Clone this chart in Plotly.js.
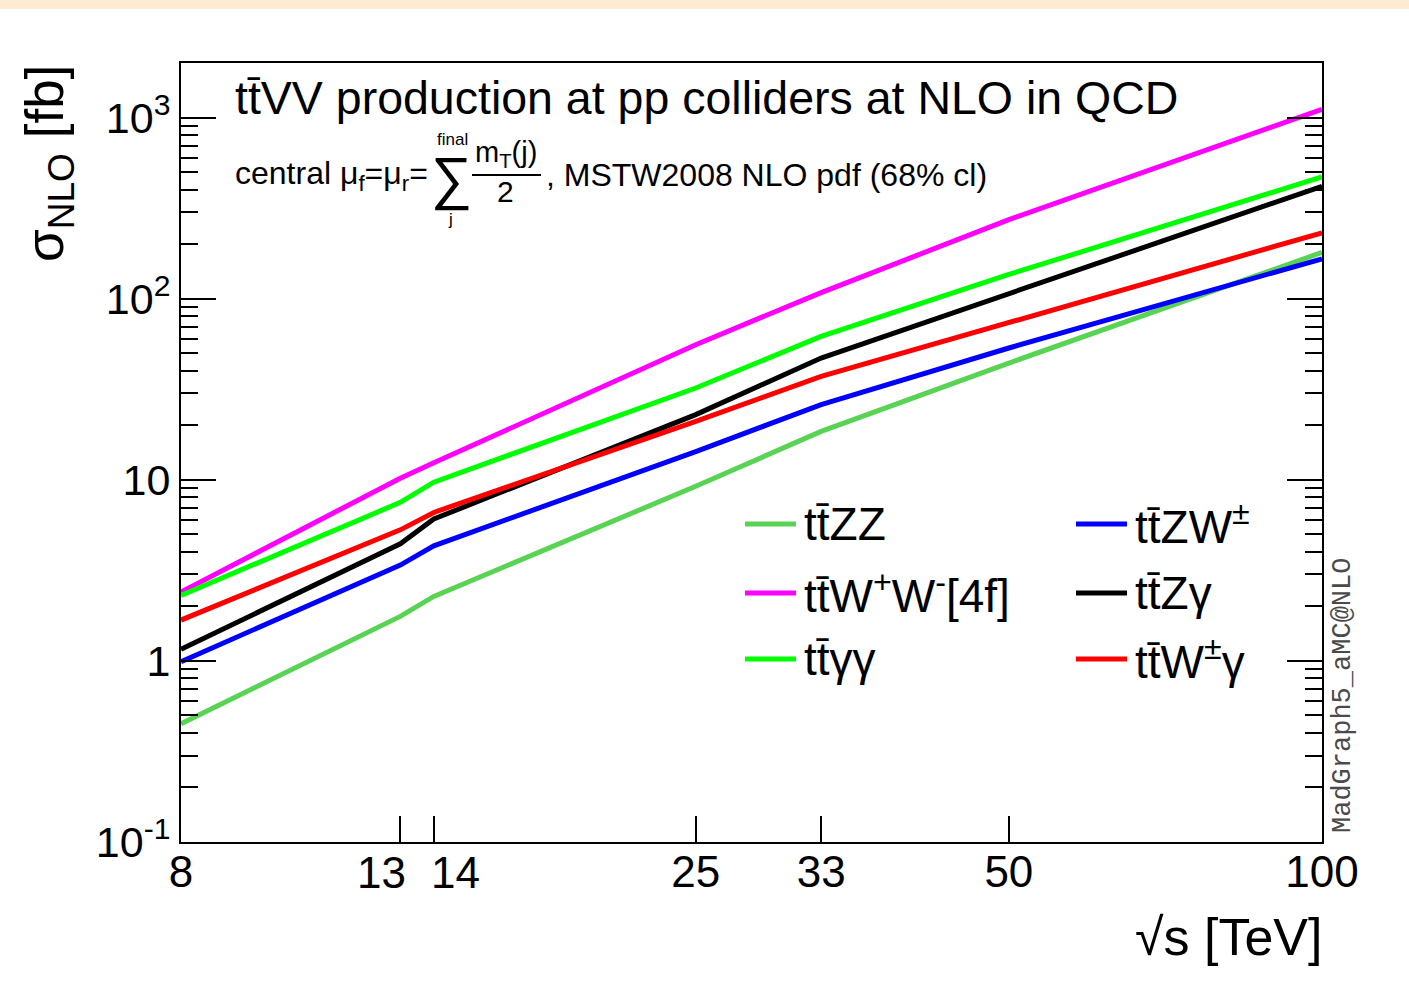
<!DOCTYPE html>
<html>
<head>
<meta charset="utf-8">
<script src="https://cdn.plot.ly/plotly-3.0.1.min.js"></script>
<style>html,body{margin:0;padding:0;background:#fff;}#chart{width:1409px;height:984px;}</style>
</head>
<body>
<div id="chart"></div>
<script>
// ---- data ----
const energies = [8, 13, 14, 25, 33, 50, 100];           // sqrt(s) [TeV]
const xTickLabels = ["8", "13", "14", "25", "33", "50", "100"];
const yTickVals = [0.1, 1, 10, 100, 1000];
const yTickLabels = ["10<sup>-1</sup>", "1", "10", "10<sup>2</sup>", "10<sup>3</sup>"];

const names = ["tt\u0304ZZ", "tt\u0304W<sup>+</sup>W<sup>-</sup>[4f]", "tt\u0304\u03b3\u03b3",
               "tt\u0304ZW<sup>\u00b1</sup>", "tt\u0304Z\u03b3", "tt\u0304W<sup>\u00b1</sup>\u03b3"];
const ttZZ   = [0.45, 1.76, 2.27, 9.2, 18.5, 44.1, 180];
const ttWW   = [2.4, 10.2, 12.4, 55.7, 108, 273, 1110];
const ttAA   = [2.3, 7.5, 9.7, 32.1, 61.9, 136, 470];
const ttZW   = [0.99, 3.38, 4.32, 14.3, 26.0, 53.4, 166];
const ttZA   = [1.16, 4.43, 6.07, 22.9, 47.0, 107, 417];
const ttWA   = [1.68, 5.29, 6.60, 21.0, 37.2, 73.4, 231];
const colors = ["#59d354", "#ff00ff", "#00ff00", "#0000ff", "#000000", "#ff0000"];
const series = [ttZZ, ttWW, ttAA, ttZW, ttZA, ttWA];

// ---- layout geometry ----
const W = 1409, H = 984;
const L = 181, R = 1322, T = 63, B = 842;
const px = x => (x - L) / (R - L);
const py = y => (B - y) / (B - T);

const FONT = "'Liberation Sans', Arial, Helvetica, sans-serif";

const traces = series.map((vals, i) => ({
  x: energies, y: vals, type: "scatter", mode: "lines",
  name: names[i], line: {color: colors[i], width: 5}, showlegend: false,
  hoverinfo: "skip"
}));

// minor ticks for log y axis
const minorVals = [];
for (let d = -1; d < 4; d++) for (let k = 2; k <= 9; k++) {
  const v = k * Math.pow(10, d);
  if (v < 2000) minorVals.push(v);
}

const annotations = [];
const shapes = [];
function txt(text, x, y, size, opts) {
  annotations.push(Object.assign({
    text: text, xref: "paper", yref: "paper", x: px(x), y: py(y),
    showarrow: false, xanchor: "left", yanchor: "middle",
    font: {family: FONT, size: size, color: "#000"}
  }, opts || {}));
}

// x tick labels: 13 and 14 are pushed apart (as in the original), others centred by the axis
const axisTickText = xTickLabels.map((t, i) => (energies[i] === 13 || energies[i] === 14) ? "" : t);
energies.forEach((e, i) => {
  if (e === 13) annotations.push({text: xTickLabels[i], x: Math.log10(e), xref: "x", y: py(872), yref: "paper",
    showarrow: false, xanchor: "right", xshift: 8, yanchor: "middle", font: {family: FONT, size: 44, color: "#000"}});
  if (e === 14) annotations.push({text: xTickLabels[i], x: Math.log10(e), xref: "x", y: py(872), yref: "paper",
    showarrow: false, xanchor: "left", xshift: -5, yanchor: "middle", font: {family: FONT, size: 44, color: "#000"}});
});

// top band
shapes.push({type: "rect", xref: "paper", yref: "paper", x0: px(0), x1: px(W), y0: py(9), y1: py(0),
  fillcolor: "#feebd3", line: {width: 0}, layer: "below"});

// title and subtitle
txt("tt\u0304VV production at pp colliders at NLO in QCD", 233, 98, 46.5);
txt("central \u03bc<sub>f</sub>=\u03bc<sub>r</sub>=", 233, 175, 32);
txt("\u2211", 451, 178, 58, {xanchor: "center"});
txt("final", 452, 139, 17, {xanchor: "center"});
txt("j", 450, 219, 17, {xanchor: "center"});
txt("m<sub>T</sub>(j)", 506, 154, 29, {xanchor: "center"});
shapes.push({type: "line", xref: "paper", yref: "paper", x0: px(472), x1: px(541), y0: py(175), y1: py(175),
  line: {color: "#000", width: 2}});
txt("2", 505, 191, 30, {xanchor: "center"});
txt(", MSTW2008 NLO pdf (68% cl)", 544, 175, 32);

// legend (two columns)
const legPos = [[745, 524], [745, 593], [745, 659], [1076, 524], [1076, 593], [1076, 659]];
series.forEach((s, si) => {
  const [lx, ly] = legPos[si];
  shapes.push({type: "line", xref: "paper", yref: "paper", x0: px(lx), x1: px(lx + 51), y0: py(ly), y1: py(ly),
    line: {color: colors[si], width: 5}});
  txt(names[si], lx + 57, ly, 46);
});

// axis titles
txt("\u03c3<sub>NLO</sub> [fb]", 48, 164, 53, {textangle: -90, xanchor: "center"});
txt("\u221as [TeV]", 1324, 937, 52, {xanchor: "right"});
// program tag
annotations.push({text: "MadGraph5_aMC@NLO", xref: "paper", yref: "paper", x: px(1343), y: py(695),
  showarrow: false, textangle: -90, xanchor: "center", yanchor: "middle",
  font: {family: "'Liberation Mono', 'DejaVu Sans Mono', monospace", size: 27, color: "#4a4a4a"}});

const layout = {
  width: W, height: H,
  margin: {l: L, r: W - R, t: T, b: H - B, pad: 0},
  paper_bgcolor: "#fff", plot_bgcolor: "#fff",
  showlegend: false,
  xaxis: {
    type: "log", range: [Math.log10(8), 2],
    tickmode: "array", tickvals: energies, ticktext: axisTickText, tickangle: 0,
    ticks: "inside", ticklen: 26, tickwidth: 2, tickcolor: "#000",
    ticklabelstandoff: -10,
    showline: true, linecolor: "#000", linewidth: 2, mirror: true,
    showgrid: false, zeroline: false,
    tickfont: {family: FONT, size: 44, color: "#000"}
  },
  yaxis: {
    type: "log", range: [-1, Math.log10(2000)],
    tickmode: "array", tickvals: yTickVals, ticktext: yTickLabels,
    ticks: "inside", ticklen: 35, tickwidth: 2, tickcolor: "#000",
    minor: {tickmode: "array", tickvals: minorVals, ticks: "inside", ticklen: 17, tickwidth: 2, tickcolor: "#000", showgrid: false},
    showline: true, linecolor: "#000", linewidth: 2, mirror: "ticks",
    showgrid: false, zeroline: false,
    tickfont: {family: FONT, size: 43, color: "#000"}
  },
  annotations: annotations,
  shapes: shapes
};

Plotly.newPlot("chart", traces, layout, {displayModeBar: false, staticPlot: true});
</script>
</body>
</html>
